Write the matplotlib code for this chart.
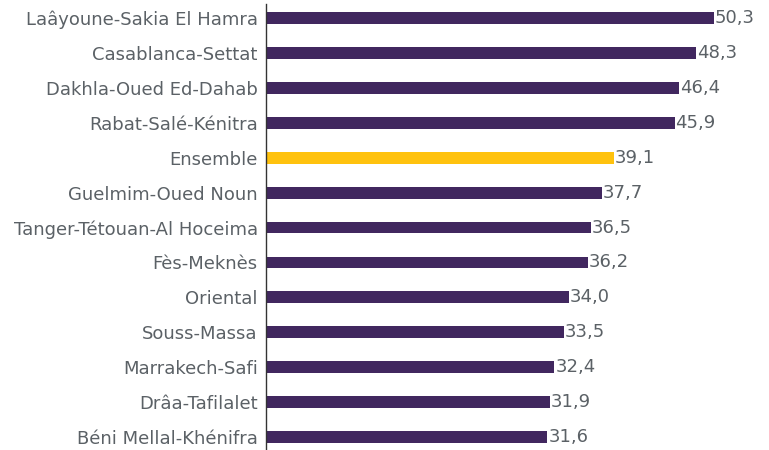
import matplotlib.pyplot as plt

# Data (top to bottom)
regions = [
    "Laâyoune-Sakia El Hamra", "Casablanca-Settat", "Dakhla-Oued Ed-Dahab",
    "Rabat-Salé-Kénitra", "Ensemble", "Guelmim-Oued Noun",
    "Tanger-Tétouan-Al Hoceima", "Fès-Meknès", "Oriental", "Souss-Massa",
    "Marrakech-Safi", "Drâa-Tafilalet", "Béni Mellal-Khénifra",
]
values = [50.3, 48.3, 46.4, 45.9, 39.1, 37.7, 36.5, 36.2, 34.0, 33.5, 32.4, 31.9, 31.6]
highlight = "Ensemble"

PURPLE = "#41275F"
YELLOW = "#FFC20E"
GREY = "#5B6166"

plt.rcParams["font.family"] = ["DejaVu Sans"]

fig = plt.figure(figsize=(7.69, 4.5), dpi=100)
# axis line runs from just below the top edge down to the bottom edge
ax = fig.add_axes([266 / 769, 0, 1 - 266 / 769, 446 / 450])

ypos = list(range(len(regions)))
colors = [YELLOW if r == highlight else PURPLE for r in regions]
ax.barh(ypos, values, height=0.34, color=colors)

for y, v in zip(ypos, values):
    ax.text(v + 0.1, y, f"{v:.1f}".replace(".", ","), va="center", ha="left",
            fontsize=13, color=GREY)

ax.set_yticks(ypos)
ax.set_yticklabels(regions, fontsize=13, color=GREY)
ax.tick_params(axis="y", length=0, pad=6)
ax.set_xticks([])
ax.set_xlim(0, 56.5)
ax.set_ylim(12.37, -0.40)

for side in ["top", "right", "bottom"]:
    ax.spines[side].set_visible(False)
ax.spines["left"].set_color("#333333")
ax.spines["left"].set_linewidth(1.0)

fig.savefig("out.png", dpi=100)
